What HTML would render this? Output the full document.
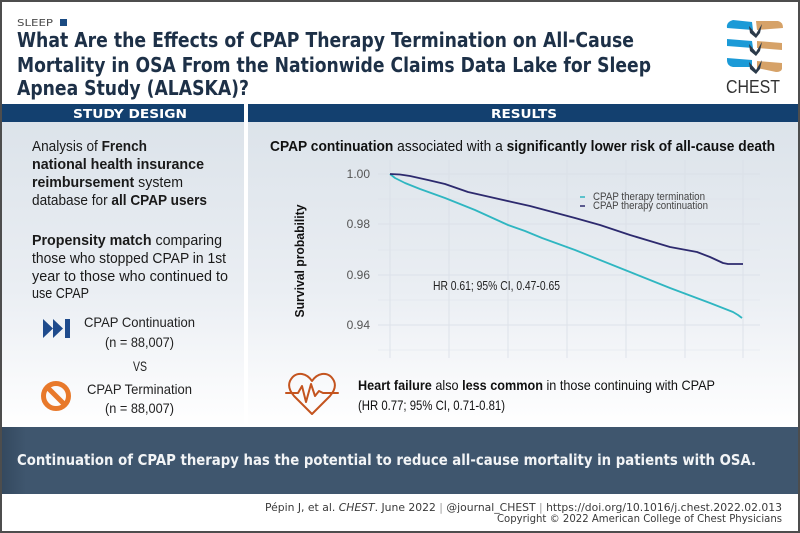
<!DOCTYPE html>
<html><head><meta charset="utf-8"><style>
html,body{margin:0;padding:0;background:#fff;}
svg{display:block;}
</style></head><body>
<svg width="800" height="533" viewBox="0 0 800 533" xmlns="http://www.w3.org/2000/svg">
<defs>
<linearGradient id="pg" x1="0" y1="0" x2="0" y2="1">
<stop offset="0" stop-color="#dce3ea"/>
<stop offset="0.55" stop-color="#eaeef3"/>
<stop offset="0.85" stop-color="#f8f9fb"/>
<stop offset="1" stop-color="#ffffff"/>
</linearGradient>
<linearGradient id="fb" x1="0" y1="0" x2="1" y2="0">
<stop offset="0" stop-color="#34495f"/>
<stop offset="0.03" stop-color="#3f566e"/>
<stop offset="1" stop-color="#3f566e"/>
</linearGradient>
</defs>
<rect x="0" y="0" width="800" height="533" fill="#fff"/>

<!-- header -->
<text x="17" y="26" font-family="DejaVu Sans, sans-serif" font-size="10" fill="#4a4a4a" textLength="36" lengthAdjust="spacingAndGlyphs">SLEEP</text>
<rect x="60" y="19" width="7" height="7" fill="#1b4b82"/>
<g font-family="DejaVu Sans, sans-serif" font-weight="bold" font-size="20" fill="#1d3047">
<text x="17" y="47" textLength="617" lengthAdjust="spacingAndGlyphs">What Are the Effects of CPAP Therapy Termination on All-Cause</text>
<text x="17" y="72" textLength="634" lengthAdjust="spacingAndGlyphs">Mortality in OSA From the Nationwide Claims Data Lake for Sleep</text>
<text x="17" y="95" textLength="232" lengthAdjust="spacingAndGlyphs">Apnea Study (ALASKA)?</text>
</g>

<!-- CHEST logo -->
<g>
<path d="M733,20 L752,22 L753,30 L727,28 Q726,22 733,20 Z" fill="#1b9ad7"/>
<path d="M756,21 L778,21 Q783,22 783,28 L757,30 Z" fill="#d6a268"/>
<path d="M727,39 L752,41 L753,48 L727,46 Z" fill="#1b9ad7"/>
<path d="M757,41 L782,43 L782,50 L757,48 Z" fill="#d6a268"/>
<path d="M727,58 L752,60 L752,67 L733,67 Q727,66 727,60 Z" fill="#1b9ad7"/>
<path d="M757,61 L782,63 L782,69 Q781,72 776,72 L757,68 Z" fill="#d6a268"/>
<path d="M749,26 L756,34 L762,24 L760,33 L756,38 L750,33 Z" fill="#2b3a4a"/>
<path d="M749,44 L756,52 L762,42 L760,51 L756,56 L750,51 Z" fill="#2b3a4a"/>
<path d="M749,62 L756,70 L762,60 L760,69 L756,74 L750,69 Z" fill="#2b3a4a"/>
<text x="726" y="93" font-family="Liberation Sans, sans-serif" font-size="18" fill="#333" textLength="54" lengthAdjust="spacingAndGlyphs">CHEST</text>
</g>

<!-- section bands -->
<rect x="2" y="104" width="242" height="18" fill="#13406f"/>
<rect x="248" y="104" width="550" height="18" fill="#13406f"/>
<text x="73" y="118" font-family="DejaVu Sans, sans-serif" font-weight="bold" font-size="12" fill="#fff" textLength="114" lengthAdjust="spacingAndGlyphs">STUDY DESIGN</text>
<text x="491" y="118" font-family="DejaVu Sans, sans-serif" font-weight="bold" font-size="12" fill="#fff" textLength="66" lengthAdjust="spacingAndGlyphs">RESULTS</text>

<!-- panels -->
<rect x="2" y="122" width="242" height="305" fill="url(#pg)"/>
<rect x="248" y="122" width="550" height="305" fill="url(#pg)"/>

<!-- left panel text -->
<g font-family="Liberation Sans, sans-serif" font-size="15" fill="#1a1a1a">
<text x="32" y="151" textLength="115" lengthAdjust="spacingAndGlyphs">Analysis of <tspan font-weight="bold">French</tspan></text>
<text x="32" y="169" font-weight="bold" textLength="172" lengthAdjust="spacingAndGlyphs">national health insurance</text>
<text x="32" y="187" textLength="151" lengthAdjust="spacingAndGlyphs"><tspan font-weight="bold">reimbursement</tspan> system</text>
<text x="32" y="205" textLength="175" lengthAdjust="spacingAndGlyphs">database for <tspan font-weight="bold">all CPAP users</tspan></text>
<text x="32" y="245" textLength="190" lengthAdjust="spacingAndGlyphs"><tspan font-weight="bold">Propensity match</tspan> comparing</text>
<text x="32" y="263" textLength="194" lengthAdjust="spacingAndGlyphs">those who stopped CPAP in 1st</text>
<text x="32" y="281" textLength="196" lengthAdjust="spacingAndGlyphs">year to those who continued to</text>
<text x="32" y="298" textLength="57" lengthAdjust="spacingAndGlyphs">use CPAP</text>
</g>
<g fill="#1f4b8c">
<polygon points="43,319 53,328.5 43,338"/>
<polygon points="53,319 63,328.5 53,338"/>
<rect x="65" y="319" width="5" height="19"/>
</g>
<g font-family="Liberation Sans, sans-serif" font-size="14" fill="#222">
<text x="84" y="327" textLength="111" lengthAdjust="spacingAndGlyphs">CPAP Continuation</text>
<text x="105" y="347" textLength="69" lengthAdjust="spacingAndGlyphs">(n = 88,007)</text>
<text x="133" y="371" textLength="14" lengthAdjust="spacingAndGlyphs">VS</text>
<text x="87" y="394" textLength="105" lengthAdjust="spacingAndGlyphs">CPAP Termination</text>
<text x="105" y="413" textLength="69" lengthAdjust="spacingAndGlyphs">(n = 88,007)</text>
</g>
<circle cx="56" cy="396" r="12.5" fill="none" stroke="#e8792b" stroke-width="5"/>
<line x1="47.5" y1="387.5" x2="64.5" y2="404.5" stroke="#e8792b" stroke-width="5"/>

<!-- right panel heading -->
<text x="270" y="151" font-family="Liberation Sans, sans-serif" font-size="15" fill="#111" textLength="505" lengthAdjust="spacingAndGlyphs"><tspan font-weight="bold">CPAP continuation</tspan> associated with a <tspan font-weight="bold">significantly lower risk of all-cause death</tspan></text>

<!-- chart grid -->
<g stroke="#d9dfe7" stroke-width="1" opacity="0.8">
<line x1="378" y1="174" x2="760" y2="174"/>
<line x1="378" y1="199" x2="760" y2="199" opacity="0.5"/>
<line x1="378" y1="224" x2="760" y2="224"/>
<line x1="378" y1="250" x2="760" y2="250" opacity="0.5"/>
<line x1="378" y1="275" x2="760" y2="275"/>
<line x1="378" y1="300" x2="760" y2="300" opacity="0.5"/>
<line x1="378" y1="325" x2="760" y2="325"/>
<line x1="378" y1="350" x2="760" y2="350" opacity="0.5"/>
<line x1="390" y1="160" x2="390" y2="358"/>
<line x1="449" y1="160" x2="449" y2="358"/>
<line x1="508" y1="160" x2="508" y2="358"/>
<line x1="567" y1="160" x2="567" y2="358"/>
<line x1="626" y1="160" x2="626" y2="358"/>
<line x1="685" y1="160" x2="685" y2="358"/>
<line x1="743" y1="160" x2="743" y2="358"/>
</g>
<g font-family="Liberation Sans, sans-serif" font-size="12" fill="#555" text-anchor="end">
<text x="370" y="178">1.00</text>
<text x="370" y="228">0.98</text>
<text x="370" y="279">0.96</text>
<text x="370" y="329">0.94</text>
</g>
<text transform="translate(304,261) rotate(-90)" text-anchor="middle" font-family="Liberation Sans, sans-serif" font-weight="bold" font-size="13" fill="#111" textLength="113" lengthAdjust="spacingAndGlyphs">Survival probability</text>

<polyline fill="none" stroke="#2fb6c1" stroke-width="1.8" stroke-linejoin="round" points="390,174 395,178 405,183 420,189 445,198 475,210 508,225 525,231 542,238 575,250 620,268 670,288 710,303 733,312 738,315 742,318"/>
<polyline fill="none" stroke="#2d2a6e" stroke-width="1.8" stroke-linejoin="round" points="390,174 400,174.5 410,176 428,180 445,184 468,192 490,197 512,202 530,206 545,210 575,218 600,225 630,235 650,241 670,247 697,252 710,257 723,263 728,264 743,264"/>

<text x="433" y="290" font-family="Liberation Sans, sans-serif" font-size="13" fill="#222" textLength="127" lengthAdjust="spacingAndGlyphs">HR 0.61; 95% CI, 0.47-0.65</text>

<!-- legend -->
<line x1="580" y1="197" x2="585" y2="197" stroke="#2fb6c1" stroke-width="1.5"/>
<line x1="580" y1="206" x2="585" y2="206" stroke="#2d2a6e" stroke-width="1.5"/>
<g font-family="Liberation Sans, sans-serif" font-size="11" fill="#444">
<text x="593" y="200" textLength="112" lengthAdjust="spacingAndGlyphs">CPAP therapy termination</text>
<text x="593" y="209" textLength="115" lengthAdjust="spacingAndGlyphs">CPAP therapy continuation</text>
</g>

<!-- heart icon -->
<g fill="none" stroke="#c4541f" stroke-width="2" stroke-linejoin="round" stroke-linecap="round">
<path d="M312,414 L294,396 Q287,388 290,381 Q294,373 302,374 Q308,375 312,381 Q316,375 322,374 Q330,373 334,381 Q337,388 330,396 Z"/>
<path d="M286,393 L298,393 L302,386 L306,402 L311,384 L315,396 L319,391 L323,393 L338,393"/>
</g>
<g font-family="Liberation Sans, sans-serif" font-size="14" fill="#111">
<text x="358" y="390" textLength="357" lengthAdjust="spacingAndGlyphs"><tspan font-weight="bold">Heart failure</tspan> also <tspan font-weight="bold">less common</tspan> in those continuing with CPAP</text>
<text x="358" y="410" textLength="147" lengthAdjust="spacingAndGlyphs">(HR 0.77; 95% CI, 0.71-0.81)</text>
</g>

<!-- footer band -->
<rect x="2" y="427" width="796" height="67" fill="url(#fb)"/>
<text x="17" y="465" font-family="DejaVu Sans, sans-serif" font-weight="bold" font-size="15" fill="#f2f4f6" textLength="739" lengthAdjust="spacingAndGlyphs">Continuation of CPAP therapy has the potential to reduce all-cause mortality in patients with OSA.</text>

<!-- citation -->
<g font-family="DejaVu Sans, sans-serif" font-size="11" fill="#3a3a3a">
<text x="265" y="511" textLength="517" lengthAdjust="spacingAndGlyphs">Pépin J, et al. <tspan font-style="italic">CHEST</tspan>. June 2022  <tspan fill="#999">|</tspan>  @journal_CHEST  <tspan fill="#999">|</tspan>  https://doi.org/10.1016/j.chest.2022.02.013</text>
<text x="497" y="522" textLength="285" lengthAdjust="spacingAndGlyphs">Copyright © 2022 American College of Chest Physicians</text>
</g>

<!-- outer border -->
<rect x="1" y="1" width="798" height="531" fill="none" stroke="#4d4d4d" stroke-width="2"/>
</svg>
</body></html>
